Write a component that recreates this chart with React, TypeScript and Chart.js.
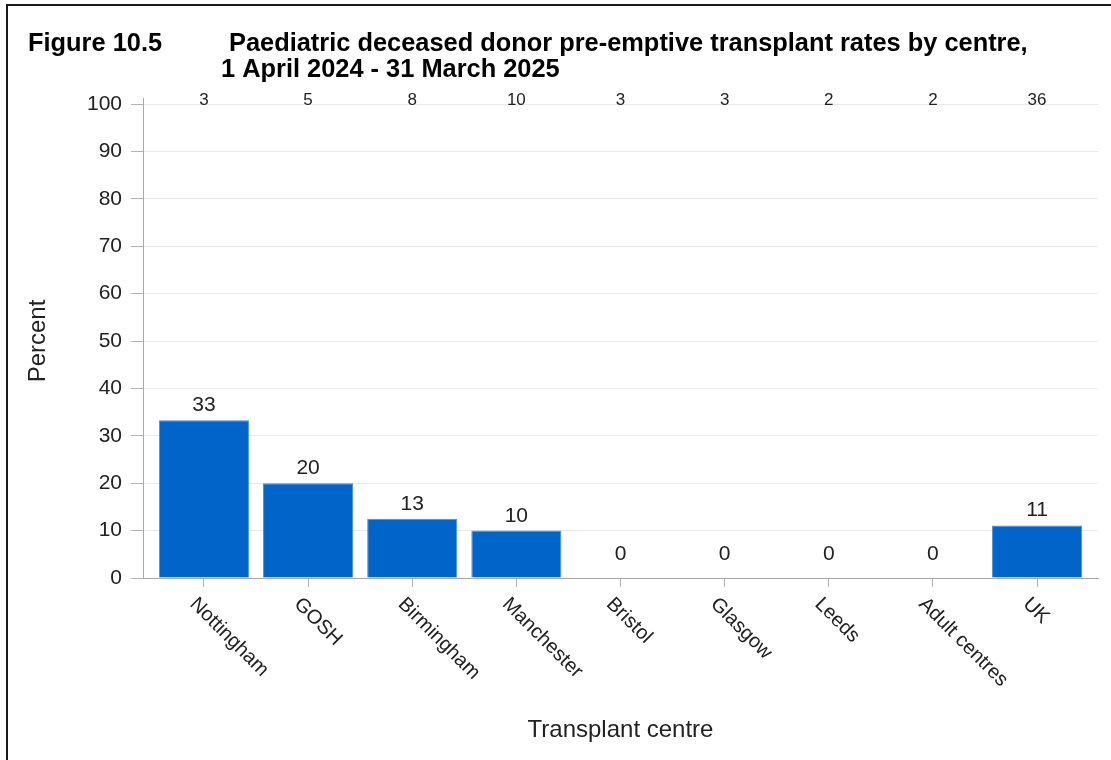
import React, { useEffect, useRef } from "react";
import { Chart, registerables } from "chart.js";

Chart.register(...registerables);

const categories = ["Nottingham", "GOSH", "Birmingham", "Manchester", "Bristol", "Glasgow", "Leeds", "Adult centres", "UK"];
const percentValues = [33.3, 20, 12.5, 10, 0, 0, 0, 0, 11.1];
const valueLabels = ["33", "20", "13", "10", "0", "0", "0", "0", "11"];
const countLabels = ["3", "5", "8", "10", "3", "3", "2", "2", "36"];
const yMin = 0;
const yMax = 100;
const yStep = 10;

const figureLabel = "Figure 10.5";
const titleLine1 = "Paediatric deceased donor pre-emptive transplant rates by centre,";
const titleLine2 = "1 April 2024 - 31 March 2025";
const yAxisTitle = "Percent";
const xAxisTitle = "Transplant centre";

const FONT = "'Liberation Sans', Arial, sans-serif";
const W = 1111;
const H = 760;

const decorPlugin = {
  id: "decor",
  afterDraw(chart: any) {
    const ctx = chart.ctx as CanvasRenderingContext2D;
    const xs = chart.scales.x;
    const ys = chart.scales.y;
    const area = chart.chartArea;
    ctx.save();

    // frame
    ctx.strokeStyle = "#1a1a1a";
    ctx.lineWidth = 2;
    ctx.beginPath();
    ctx.moveTo(7, H);
    ctx.lineTo(7, 5);
    ctx.lineTo(W, 5);
    ctx.stroke();

    // small extension of the y axis line above the top gridline
    ctx.strokeStyle = "#a8a8a8";
    ctx.lineWidth = 1;
    ctx.beginPath();
    ctx.moveTo(area.left + 0.5, area.top);
    ctx.lineTo(area.left + 0.5, area.top - 6);
    ctx.stroke();

    // titles
    ctx.fillStyle = "#000";
    ctx.font = `bold 25.4px ${FONT}`;
    ctx.textAlign = "left";
    ctx.textBaseline = "alphabetic";
    ctx.fillText(figureLabel, 28, 51);
    ctx.fillText(titleLine1, 229, 51);
    ctx.fillText(titleLine2, 221, 77);

    // y axis title
    ctx.fillStyle = "#222";
    ctx.font = `24px ${FONT}`;
    ctx.save();
    ctx.translate(38, (area.top + area.bottom) / 2);
    ctx.rotate(-Math.PI / 2);
    ctx.textAlign = "center";
    ctx.textBaseline = "middle";
    ctx.fillText(yAxisTitle, 0, 0);
    ctx.restore();

    // x axis title
    ctx.textAlign = "center";
    ctx.textBaseline = "middle";
    ctx.fillText(xAxisTitle, (area.left + area.right) / 2, 730);

    // counts at top
    ctx.font = `17px ${FONT}`;
    ctx.fillStyle = "#222";
    ctx.textAlign = "center";
    ctx.textBaseline = "alphabetic";
    const yTop = ys.getPixelForValue(yMax);
    countLabels.forEach((t, i) => {
      ctx.fillText(t, xs.getPixelForValue(i), yTop + 1);
    });

    // value labels
    const meta = chart.getDatasetMeta(0);
    ctx.font = `21px ${FONT}`;
    ctx.textBaseline = "alphabetic";
    meta.data.forEach((bar: any, i: number) => {
      const gap = percentValues[i] === 0 ? 18 : 9;
      ctx.fillText(valueLabels[i], bar.x, bar.y - gap);
    });

    // x category labels rotated 45deg clockwise
    ctx.font = `20px ${FONT}`;
    ctx.textAlign = "left";
    ctx.textBaseline = "middle";
    categories.forEach((c, i) => {
      const x = xs.getPixelForValue(i);
      ctx.save();
      ctx.translate(x - 11, area.bottom + 23);
      ctx.rotate(Math.PI / 4);
      ctx.fillText(c, 0, 0);
      ctx.restore();
    });

    ctx.restore();
  },
};

export default function App() {
  const ref = useRef<HTMLCanvasElement | null>(null);
  useEffect(() => {
    if (!ref.current) return;
    const chart = new Chart(ref.current, {
      type: "bar",
      data: {
        datasets: [
          {
            data: percentValues.map((v, i) => ({ x: i, y: v })),
            backgroundColor: "#0064c8",
            borderColor: "#4a8fd8",
            borderWidth: 1,
            barPercentage: 0.865,
            categoryPercentage: 1,
          },
        ],
      },
      options: {
        responsive: false,
        animation: false,
        devicePixelRatio: 1,
        layout: { padding: { top: 104, right: 13, bottom: 0, left: 0 } },
        plugins: { legend: { display: false }, tooltip: { enabled: false }, title: { display: false } },
        scales: {
          x: {
            type: "linear",
            offset: false,
            min: -0.585,
            max: categories.length - 1 + 0.585,
            afterBuildTicks: (scale: any) => {
              scale.ticks = categories.map((_, i) => ({ value: i }));
            },
            afterFit: (scale: any) => {
              scale.height = H - 578;
            },
            ticks: { display: false },
            grid: { offset: false, drawOnChartArea: false, drawTicks: true, tickLength: 9, tickColor: "#b4b4b4" },
            border: { color: "#a8a8a8", width: 1 },
          },
          y: {
            min: yMin,
            max: yMax,
            afterFit: (scale: any) => {
              scale.width = 143;
            },
            ticks: { stepSize: yStep, padding: 9, color: "#222", font: { family: FONT, size: 21 } },
            grid: { color: "#e9e9e9", tickColor: "#b4b4b4", tickLength: 12, drawTicks: true },
            border: { color: "#a8a8a8", width: 1 },
          },
        },
      },
      plugins: [decorPlugin],
    });
    return () => chart.destroy();
  }, []);
  return (
    <div style={{ position: "absolute", left: 0, top: 0, width: W, height: H, background: "#fff" }}>
      <canvas ref={ref} width={W} height={H} style={{ display: "block" }} />
    </div>
  );
}
